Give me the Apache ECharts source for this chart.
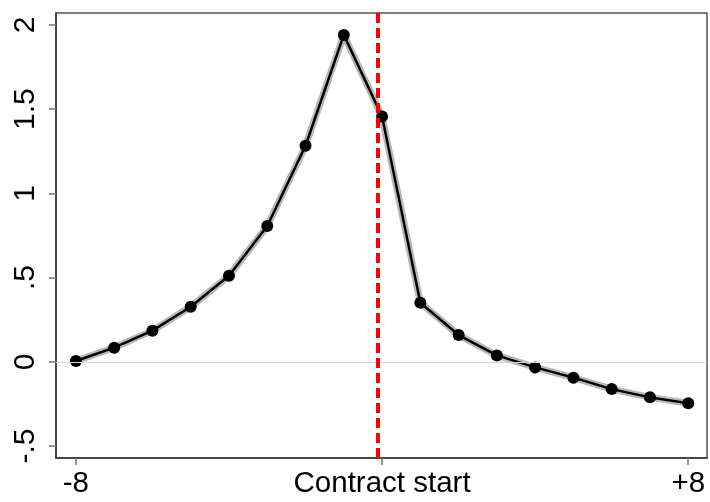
<!DOCTYPE html>
<html>
<head>
<meta charset="utf-8">
<script src="https://cdn.jsdelivr.net/npm/echarts@6/dist/echarts.min.js"></script>
<style>html,body{margin:0;padding:0;background:#fff;}#chart{width:710px;height:502px;}</style>
</head>
<body>
<div id="chart"></div>
<script>
// Data
const xValues = [-8,-7,-6,-5,-4,-3,-2,-1,0,1,2,3,4,5,6,7,8];
const yValues = [0.005,0.084,0.185,0.327,0.511,0.806,1.283,1.941,1.456,0.351,0.159,0.038,-0.033,-0.094,-0.162,-0.211,-0.246];
const xTickValues = [-8, 0, 8];
const xTickLabels = {"-8": "-8", "0": "Contract start", "8": "+8"};
const yTickValues = [-0.5, 0, 0.5, 1, 1.5, 2];
const yTickLabels = {"-0.5": "-.5", "0": "0", "0.5": ".5", "1": "1", "1.5": "1.5", "2": "2"};
const eventLineX = -0.1;
const xRange = [-8.52, 8.49];
const yRange = [-0.571, 2.071];

const pts = xValues.map((x, i) => [x, yValues[i]]);
const font = '"Liberation Sans", Arial, Helvetica, sans-serif';

const chart = echarts.init(document.getElementById('chart'), null, {renderer: 'canvas'});
chart.setOption({
  animation: false,
  backgroundColor: '#fff',
  grid: {left: 56, right: 3, top: 13, bottom: 44, show: true, borderColor: '#555', borderWidth: 1.5, backgroundColor: 'transparent'},
  xAxis: {
    type: 'value', min: xRange[0], max: xRange[1],
    axisLine: {show: true, onZero: false, lineStyle: {color: '#333', width: 1.5}},
    axisTick: {show: true, length: 7, customValues: xTickValues, lineStyle: {color: '#777', width: 1.5}},
    axisLabel: {customValues: xTickValues, margin: 11, fontSize: 29.5, color: '#000', fontFamily: font,
      formatter: v => xTickLabels[String(Math.round(v))] || ''},
    splitLine: {show: false}
  },
  yAxis: {
    type: 'value', min: yRange[0], max: yRange[1],
    axisLine: {show: true, onZero: false, lineStyle: {color: '#333', width: 1.5}},
    axisTick: {show: true, length: 7, customValues: yTickValues, lineStyle: {color: '#777', width: 1.5}},
    axisLabel: {customValues: yTickValues, rotate: 90, margin: 15, fontSize: 30, color: '#000', fontFamily: font,
      formatter: v => yTickLabels[String(Math.round(v * 10) / 10)] || ''},
    splitLine: {show: false}
  },
  series: [
    {
      type: 'line', data: pts, symbol: 'none', silent: true,
      lineStyle: {color: '#b8b8b8', width: 7},
      z: 1,
      markLine: {
        silent: true, symbol: 'none', label: {show: false},
        data: [{yAxis: 0, lineStyle: {color: '#d9d9d9', width: 1.2, type: 'solid'}}]
      }
    },
    {
      type: 'line', data: pts, symbol: 'circle', symbolSize: 12,
      itemStyle: {color: '#000'}, lineStyle: {color: '#000', width: 2.5},
      z: 3
    },
    {
      type: 'line', data: [], z: 4,
      markLine: {
        silent: true, symbol: 'none', label: {show: false},
        data: [{xAxis: eventLineX}],
        lineStyle: {color: '#ff0000', width: 4, type: [10, 5]}
      }
    }
  ]
});
</script>
</body>
</html>
